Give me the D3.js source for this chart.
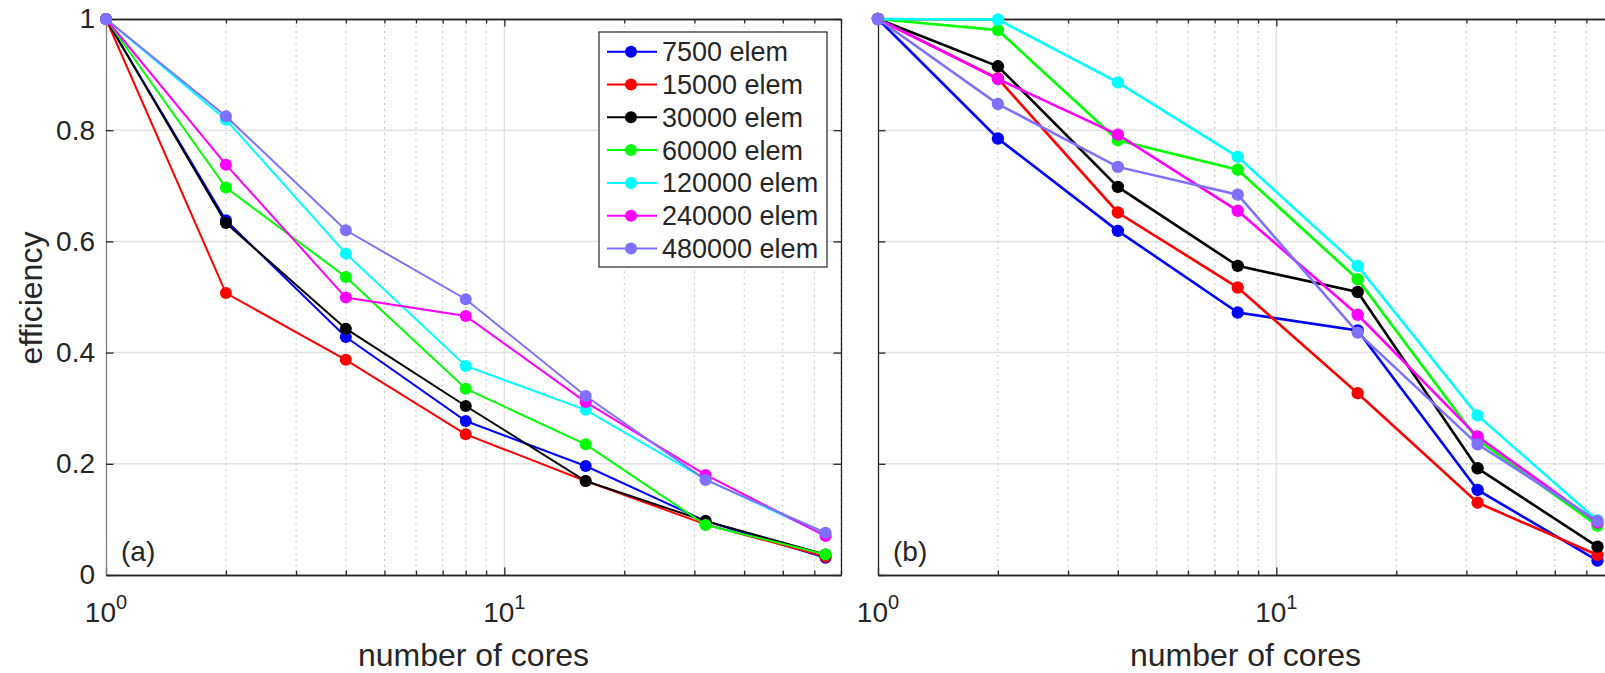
<!DOCTYPE html>
<html>
<head>
<meta charset="utf-8">
<script src="https://cdn.jsdelivr.net/npm/d3@7"></script>
<style>
    body { margin: 0; background: #fff; }
    text { font-family: "Liberation Sans", Arial, sans-serif; fill: #262626; }
</style>
</head>
<body>
<svg id="chart" width="1605" height="673"></svg>
<script>
// cores on the x axis (log scale)
let cores = [1, 2, 4, 8, 16, 32, 64];
let seriesNames = ["7500 elem", "15000 elem", "30000 elem", "60000 elem", "120000 elem", "240000 elem", "480000 elem"];
let seriesColors = ["#0000ff", "#ff0000", "#000000", "#00ff00", "#00ffff", "#ff00ff", "#8070ff"];

// efficiency, panel (a)
let effA = [
    [1, 0.638, 0.428, 0.277, 0.196, 0.097, 0.031],
    [1, 0.507, 0.387, 0.253, 0.169, 0.091, 0.033],
    [1, 0.633, 0.443, 0.304, 0.169, 0.097, 0.037],
    [1, 0.697, 0.536, 0.335, 0.235, 0.090, 0.037],
    [1, 0.819, 0.578, 0.376, 0.297, 0.172, 0.072],
    [1, 0.738, 0.499, 0.466, 0.311, 0.180, 0.070],
    [1, 0.825, 0.620, 0.496, 0.322, 0.171, 0.076]
];

// efficiency, panel (b)
let effB = [
    [1, 0.785, 0.619, 0.472, 0.440, 0.153, 0.026],
    [1, 0.893, 0.652, 0.517, 0.327, 0.130, 0.036],
    [1, 0.915, 0.698, 0.556, 0.509, 0.192, 0.051],
    [1, 0.980, 0.782, 0.729, 0.532, 0.243, 0.089],
    [1, 0.999, 0.886, 0.752, 0.556, 0.287, 0.098],
    [1, 0.892, 0.792, 0.655, 0.468, 0.249, 0.094],
    [1, 0.847, 0.734, 0.684, 0.436, 0.235, 0.097]
];

let yTicks = [0, 0.2, 0.4, 0.6, 0.8, 1];
let xMajor = [1, 10];
let xMinor = [2, 3, 4, 5, 6, 7, 8, 9, 20, 30, 40, 50, 60, 70];

let svg = d3.select("#chart");
let plotTop = 19, plotBottom = 575;

function drawPanel(left, right, data, tag, opts) {
    let x = d3.scaleLog().domain([1, 70]).range([left, right]);
    let y = d3.scaleLinear().domain([0, 1]).range([plotBottom, plotTop]);
    let g = svg.append("g");

    // grid
    g.selectAll(".gy").data(yTicks.slice(1, -1)).enter().append("line")
        .attr("x1", left).attr("x2", right)
        .attr("y1", d => y(d)).attr("y2", d => y(d))
        .attr("stroke", "#e3e3e3").attr("stroke-width", 1.5);
    g.selectAll(".gx").data([10]).enter().append("line")
        .attr("x1", d => x(d)).attr("x2", d => x(d))
        .attr("y1", plotTop).attr("y2", plotBottom)
        .attr("stroke", "#e3e3e3").attr("stroke-width", 1.5);
    g.selectAll(".gm").data(xMinor).enter().append("line")
        .attr("x1", d => x(d)).attr("x2", d => x(d))
        .attr("y1", plotTop).attr("y2", plotBottom)
        .attr("stroke", "#c4c4c4").attr("stroke-width", 1)
        .attr("stroke-dasharray", "2,4");

    // axes (ticks point inside)
    let axB = g.append("g").attr("transform", "translate(0," + plotBottom + ")")
        .call(d3.axisBottom(x).tickValues(xMajor).tickSize(-7.5).tickSizeOuter(0).tickFormat(""));
    axB.append("g").call(d3.axisBottom(x).tickValues(xMinor).tickSize(-4.5).tickSizeOuter(0).tickFormat(""));
    let axT = g.append("g").attr("transform", "translate(0," + plotTop + ")")
        .call(d3.axisTop(x).tickValues(xMajor).tickSize(-7.5).tickSizeOuter(0).tickFormat(""));
    axT.append("g").call(d3.axisTop(x).tickValues(xMinor).tickSize(-4.5).tickSizeOuter(0).tickFormat(""));
    let axL = g.append("g").attr("transform", "translate(" + left + ",0)")
        .call(d3.axisLeft(y).tickValues(yTicks).tickSize(-7.5).tickSizeOuter(0).tickPadding(11)
            .tickFormat(d => opts.yLabels ? String(d) : ""));
    g.append("g").attr("transform", "translate(" + right + ",0)")
        .call(d3.axisRight(y).tickValues(yTicks).tickSize(-7.5).tickSizeOuter(0).tickFormat(""));

    g.selectAll(".domain").attr("stroke", "#262626").attr("stroke-width", 1.3);
    axL.select(".domain").attr("stroke", opts.yAxisColor);
    g.selectAll(".tick line").attr("stroke", "#262626").attr("stroke-width", 1.3);
    axL.selectAll("text").style("font-size", "28px").attr("fill", "#262626")
        .attr("font-family", null);

    // x tick labels 10^n
    let lab = g.selectAll(".xl").data(xMajor).enter().append("text")
        .attr("x", d => x(d)).attr("y", 622)
        .attr("text-anchor", "middle").style("font-size", "28px");
    lab.append("tspan").text("10");
    lab.append("tspan").attr("dy", -13).style("font-size", "20px").text(d => Math.round(Math.log10(d)));

    g.append("text").attr("x", (left + right) / 2).attr("y", 666)
        .attr("text-anchor", "middle").style("font-size", "32px").text("number of cores");

    g.append("text").attr("x", left + 15).attr("y", 561)
        .style("font-size", "28px").text(tag);

    // series
    let line = d3.line().x((d, i) => x(cores[i])).y(d => y(d));
    data.forEach(function (vals, s) {
        let sg = g.append("g");
        sg.append("path").datum(vals).attr("d", line)
            .attr("fill", "none").attr("stroke", seriesColors[s]).attr("stroke-width", opts.lineWidth);
        sg.selectAll("circle").data(vals).enter().append("circle")
            .attr("cx", (d, i) => x(cores[i])).attr("cy", d => y(d)).attr("r", opts.markerR)
            .attr("fill", seriesColors[s]);
    });

    if (opts.legend) {
        let lg = g.append("g").attr("transform", "translate(599,32)");
        lg.append("rect").attr("width", 228).attr("height", 235)
            .attr("fill", "#fff").attr("stroke", "#262626").attr("stroke-width", 1.2);
        let row = lg.selectAll(".row").data(seriesNames).enter().append("g")
            .attr("transform", (d, i) => "translate(0," + (19.7 + i * 32.8) + ")");
        row.append("line").attr("x1", 8).attr("x2", 58)
            .attr("stroke", (d, i) => seriesColors[i]).attr("stroke-width", opts.lineWidth);
        row.append("circle").attr("cx", 32).attr("r", 6).attr("fill", (d, i) => seriesColors[i]);
        row.append("text").attr("x", 63).attr("y", 9.5)
            .style("font-size", "27px").attr("fill", "#000").text(d => d);
    }
}

drawPanel(106, 841, effA, "(a)", {yLabels: true, legend: true, yAxisColor: "#808080", lineWidth: 2, markerR: 6});
drawPanel(878, 1613, effB, "(b)", {yLabels: false, legend: false, yAxisColor: "#262626", lineWidth: 2.6, markerR: 6.2});

// y label
svg.append("text").attr("transform", "translate(42,298) rotate(-90)")
    .attr("text-anchor", "middle").style("font-size", "32px").text("efficiency");
</script>
</body>
</html>
